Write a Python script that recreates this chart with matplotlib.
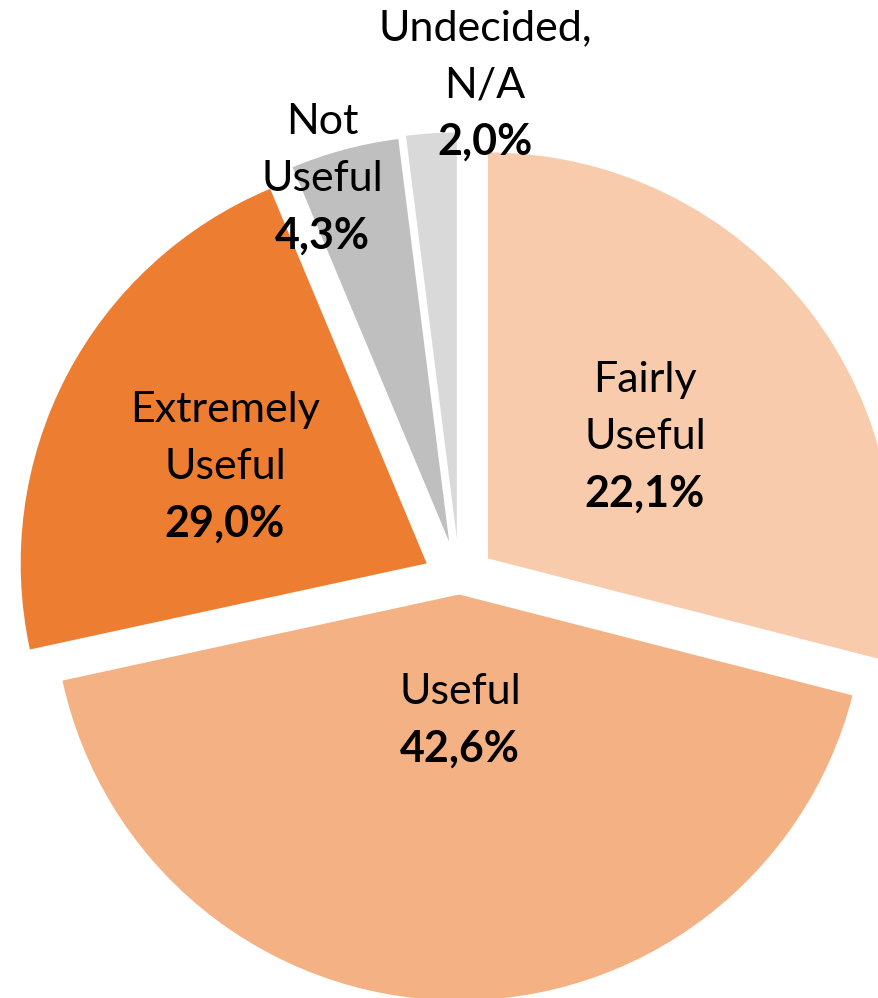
import matplotlib.pyplot as plt

# slice sizes as drawn (percent of circle), clockwise from 12 o'clock
names = ['Fairly\nUseful', 'Useful', 'Extremely\nUseful', 'Not\nUseful', 'Undecided,\nN/A']
sizes = [29.0, 42.6, 22.1, 4.3, 2.0]
# percentages printed on the labels
pct_text = ['22,1%', '42,6%', '29,0%', '4,3%', '2,0%']
colors = ['#F8CBAD', '#F4B183', '#ED7D31', '#BFBFBF', '#D9D9D9']

W, H = 879, 998
R = 406
# matplotlib shifts each wedge by explode * 1 data unit, so these are pixels
explode = [36, 14, 37, 40, 42]

plt.rcParams['font.family'] = ['Lato', 'DejaVu Sans']

fig = plt.figure(figsize=(W / 100, H / 100), dpi=100)
ax = fig.add_axes([0, 0, 1, 1])
ax.pie(sizes, colors=colors, startangle=90, counterclock=False,
       explode=explode, radius=R, center=(459.5, H - 580.5),
       wedgeprops=dict(linewidth=0))
ax.set_xlim(0, W)
ax.set_ylim(0, H)
ax.set_aspect('equal')
ax.axis('off')

# label blocks: x centre and y (from top) of first line
label_pos = [(645, 380), (460, 692), (225, 410), (322, 122), (485, 28)]
step = 57
for name, pct, (x, y) in zip(names, pct_text, label_pos):
    lines = name.split('\n')
    for i, line in enumerate(lines):
        ax.text(x, H - (y + i * step), line, ha='center', va='center',
                fontsize=31, color='#000000')
    ax.text(x, H - (y + len(lines) * step), pct, ha='center', va='center',
            fontsize=31, fontweight='bold', color='#000000')

fig.savefig('out.png', dpi=100)
